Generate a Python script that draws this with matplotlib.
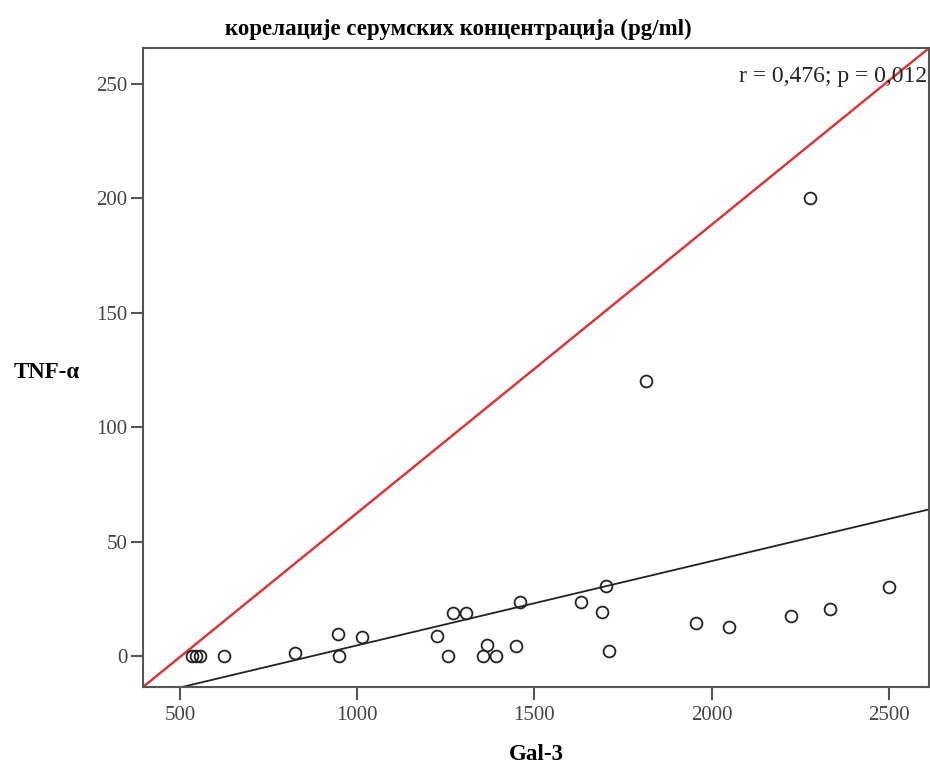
import matplotlib.pyplot as plt
import numpy as np

plt.rcParams['font.family'] = ['Liberation Serif', 'DejaVu Serif']

# serum concentrations (pg/ml)
gal3 = [534, 545, 556, 624, 824, 945, 948, 1015, 1226, 1257, 1269, 1308,
        1356, 1367, 1393, 1447, 1460, 1632, 1692, 1701, 1711, 1815, 1955,
        2050, 2224, 2277, 2333, 2499]
tnf = [0, 0, 0, 0, 1.3, 9.6, 0, 8.3, 8.7, 0, 18.8, 18.8,
       0, 4.8, 0, 4.5, 23.7, 23.7, 19.3, 30.5, 2.3, 120, 14.5,
       12.8, 17.6, 200.3, 20.6, 30.4]

xlim = (396, 2613)
ylim = (-13.5, 265.7)

# fitted line and diagonal reference line (end points)
fit_x = [506, 2613]
fit_y = [-13.5, 64.1]
ref_x = [396, 2613]
ref_y = [-13.5, 265.7]

xticks = [500, 1000, 1500, 2000, 2500]
yticks = [0, 50, 100, 150, 200, 250]

fig = plt.figure(figsize=(9.3, 7.67), dpi=100)
ax = fig.add_axes([143/930, 1-687/767, 786/930, 639/767])

ax.plot(ref_x, ref_y, color='#d43a3a', lw=1.8, zorder=2)
ax.plot(fit_x, fit_y, color='#222222', lw=1.3, zorder=2)
ax.plot(gal3, tnf, 'o', ms=8.5, mfc='none', mec='#222222', mew=1.3, zorder=3)

ax.set_xlim(xlim)
ax.set_ylim(ylim)
ax.set_xticks(xticks)
ax.set_yticks(yticks)
ax.tick_params(direction='out', length=9, width=1.5, color='#555555',
               labelsize=15, labelcolor='#444444')
ax.tick_params(axis='x', pad=5)
ax.tick_params(axis='y', pad=2)
for s in ax.spines.values():
    s.set_color('#555555')
    s.set_linewidth(1.5)

ax.text(0.998, 0.955, 'r = 0,476; p = 0,012', transform=ax.transAxes,
        ha='right', va='center', fontsize=17, color='#222222')

fig.text(458/930, 1-29/767, 'корелације серумских концентрација (pg/ml)',
         ha='center', va='center', fontsize=16.5, fontweight='bold')
fig.text(536/930, 1-755/767, 'Gal-3', ha='center', va='center',
         fontsize=16.5, fontweight='bold')
fig.text(47/930, 1-372/767, 'TNF-α', ha='center', va='center',
         fontsize=16.5, fontweight='bold')

fig.savefig('out.png', dpi=100)
